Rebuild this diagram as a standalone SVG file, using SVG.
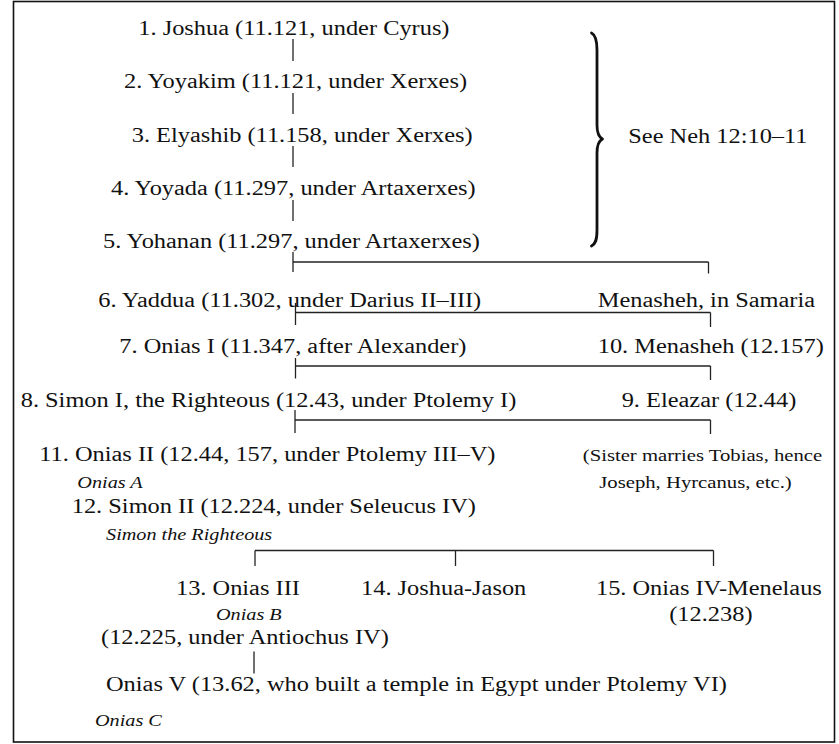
<svg xmlns="http://www.w3.org/2000/svg" width="839" height="744" viewBox="0 0 839 744">
<style>
  .t{font-family:"Liberation Serif","Times New Roman",serif;font-size:20.5px;fill:#111}
  .s{font-size:17.4px}
  .i{font-style:italic;font-size:17px}
  .c line{stroke:#222;stroke-width:1.3;fill:none}
  .brace{stroke:#111;stroke-width:2.8;fill:none;stroke-linecap:round;stroke-linejoin:round}
</style>
<rect x="0" y="0" width="839" height="744" fill="#fff"/>
<rect x="13.5" y="1.5" width="821" height="740.5" fill="none" stroke="#111" stroke-width="1.6"/>
<g id="connectors" class="c">
  <line x1="293" y1="39" x2="293" y2="61"/>
  <line x1="293" y1="93" x2="293" y2="114"/>
  <line x1="293" y1="146" x2="293" y2="167"/>
  <line x1="293" y1="200" x2="293" y2="221"/>
  <line x1="293" y1="252" x2="293" y2="272"/>
  <line x1="293" y1="262" x2="708.5" y2="262"/>
  <line x1="708.5" y1="262" x2="708.5" y2="273.5"/>
  <line x1="295.5" y1="303" x2="295.5" y2="325"/>
  <line x1="295.5" y1="312.5" x2="710.5" y2="312.5"/>
  <line x1="710.5" y1="312.5" x2="710.5" y2="327"/>
  <line x1="295.5" y1="358" x2="295.5" y2="378.5"/>
  <line x1="295.5" y1="366" x2="710.5" y2="366"/>
  <line x1="710.5" y1="366" x2="710.5" y2="380"/>
  <line x1="295" y1="410" x2="295" y2="433"/>
  <line x1="295" y1="420" x2="710.5" y2="420"/>
  <line x1="710.5" y1="420" x2="710.5" y2="434"/>
  <line x1="255" y1="550.5" x2="713.5" y2="550.5"/>
  <line x1="255" y1="550.5" x2="255" y2="566"/>
  <line x1="455.5" y1="550.5" x2="455.5" y2="566"/>
  <line x1="713.5" y1="550.5" x2="713.5" y2="566"/>
  <line x1="254" y1="651.5" x2="254" y2="673.5"/>
  <path class="brace" d="M591.5,33 C595.5,35 597,40 597,50 L597,125 C597,133 598.5,137 602.5,139 C598.5,141 597,145 597,153 L597,230 C597,240 595.5,244 591.5,246"/>
</g>
<g transform="scale(1.19,1)">
  <g id="n1"><text class="t" x="116.2" y="35">1. Joshua (11.121, under Cyrus)</text></g>
  <g id="n2"><text class="t" x="104.2" y="88.5">2. Yoyakim (11.121, under Xerxes)</text></g>
  <g id="n3"><text class="t" x="110.7" y="142">3. Elyashib (11.158, under Xerxes)</text></g>
  <g id="n4"><text class="t" x="93.3" y="195">4. Yoyada (11.297, under Artaxerxes)</text></g>
  <g id="n5"><text class="t" x="86.6" y="248">5. Yohanan (11.297, under Artaxerxes)</text></g>
  <g id="neh"><text class="t" x="528" y="143">See Neh 12:10–11</text></g>
  <g id="n6"><text class="t" x="82.6" y="307">6. Yaddua (11.302, under Darius II–III)</text></g>
  <g id="menasheh-samaria"><text class="t" x="502.3" y="307">Menasheh, in Samaria</text></g>
  <g id="n7"><text class="t" x="100.3" y="353">7. Onias I (11.347, after Alexander)</text></g>
  <g id="n10"><text class="t" x="502.3" y="353">10. Menasheh (12.157)</text></g>
  <g id="n8"><text class="t" x="17.4" y="407">8. Simon I, the Righteous (12.43, under Ptolemy I)</text></g>
  <g id="n9"><text class="t" x="522.4" y="407">9. Eleazar (12.44)</text></g>
  <g id="n11">
    <text class="t" x="33" y="461.5">11. Onias II (12.44, 157, under Ptolemy III–V)</text>
    <text class="t i" x="65" y="488">Onias A</text>
  </g>
  <g id="sister">
    <text class="t s" x="489.7" y="461.5">(Sister marries Tobias, hence</text>
    <text class="t s" x="503.6" y="488">Joseph, Hyrcanus, etc.)</text>
  </g>
  <g id="n12">
    <text class="t" x="60.3" y="513">12. Simon II (12.224, under Seleucus IV)</text>
    <text class="t i" x="89.1" y="540">Simon the Righteous</text>
  </g>
  <g id="n13">
    <text class="t" x="147.9" y="595">13. Onias III</text>
    <text class="t i" x="181.5" y="620">Onias B</text>
    <text class="t" x="84.9" y="644">(12.225, under Antiochus IV)</text>
  </g>
  <g id="n14"><text class="t" x="303.4" y="595">14. Joshua-Jason</text></g>
  <g id="n15">
    <text class="t" x="500.8" y="595">15. Onias IV-Menelaus</text>
    <text class="t" x="562.4" y="621.5">(12.238)</text>
  </g>
  <g id="onias-v">
    <text class="t" x="89.1" y="691.5">Onias V (13.62, who built a temple in Egypt under Ptolemy VI)</text>
    <text class="t i" x="79.8" y="726.5">Onias C</text>
  </g>
</g>
</svg>
